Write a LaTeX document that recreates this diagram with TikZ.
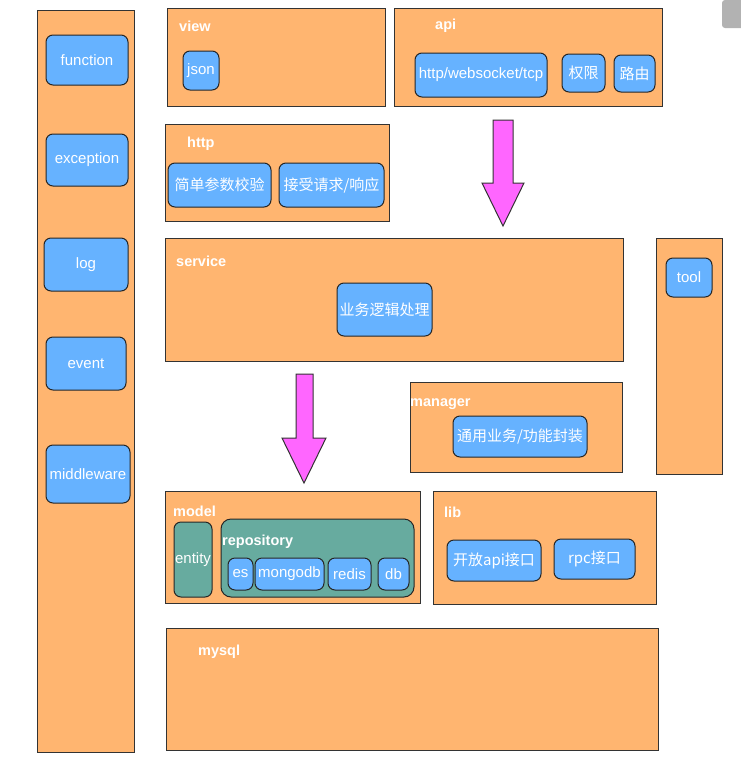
\documentclass[tikz,border=0pt]{standalone}
\usepackage{fontspec}
\setmainfont{Liberation Sans}
\newfontfamily\cjk{Noto Sans CJK SC}
\usetikzlibrary{positioning}
\definecolor{layerorange}{HTML}{FFB570}
\definecolor{itemblue}{HTML}{66B2FF}
\definecolor{repoteal}{HTML}{67AB9F}
\definecolor{flowpink}{HTML}{FF66FF}
\tikzset{layer node/.style={rectangle, draw=black!80, fill=layerorange,
    line width=1pt, inner sep=0pt, outer sep=0pt}}
\tikzset{item node/.style={rectangle, rounded corners=7pt, draw=black!85,
    fill=itemblue, line width=1pt, text=white, inner sep=1pt,
    font=\fontsize{15}{18}\selectfont}}
\tikzset{group node/.style={item node, fill=repoteal}}
\tikzset{layer title/.style={anchor=west, text=white, inner sep=0pt, yshift=-2pt,
    font=\bfseries\fontsize{14.5}{17}\selectfont}}
\tikzset{flow arrow/.style={draw=black!80, fill=flowpink, line width=1pt}}

\begin{document}
\begin{tikzpicture}
  [x=1pt, y=-1pt]
  \useasboundingbox (0,0) rectangle (740,764);
  \fill [black!30, rounded corners=3pt] (722,0) rectangle (748,28);

  % common column
  \node [layer node, minimum width=97, minimum height=742] (common) at (85.5,381) {};
  \node [item node, minimum width=82, minimum height=50] (function)   at ( 87,60)    {function};
  \node [item node, minimum width=82, minimum height=52] (exception)  at ( 87,160)   {exception};
  \node [item node, minimum width=84, minimum height=53] (log)        at ( 86,264.5) {log};
  \node [item node, minimum width=80, minimum height=53] (event)      at ( 86,363.5) {event};
  \node [item node, minimum width=84, minimum height=58] (middleware) at ( 88,474)   {middleware};

  % view / api
  \node [layer node, minimum width=218, minimum height=98] (view) at (276,57) {};
  \node [layer title] (view title) at (179,24) {view};
  \node [item node, minimum width=36, minimum height=39] (json) at (201,70.5) {json};

  \node [layer node, minimum width=268, minimum height=98] (api) at (528,57) {};
  \node [layer title] (api title) at (435,24) {api};
  \node [item node, minimum width=132, minimum height=44] (protocol) at (481,75)     {http/websocket/tcp};
  \node [item node, minimum width=43,  minimum height=38] (auth)     at (583.5,73)   {\cjk 权限};
  \node [item node, minimum width=41,  minimum height=37] (router)   at (634.5,73.5) {\cjk 路由};

  % http
  \node [layer node, minimum width=224, minimum height=97] (http) at (277,172.5) {};
  \node [layer title] (http title) at (187,142) {http};
  \node [item node, minimum width=103, minimum height=44] (check)   at (219.5,185) {\cjk 简单参数校验};
  \node [item node, minimum width=105, minimum height=44] (request) at (331.5,185) {\cjk 接受请求/响应};

  \draw [flow arrow] (493,120) -- (513,120) -- (513,183) -- (524,183)
    -- (503,226) -- (482,183) -- (493,183) -- cycle;

  % service / tool
  \node [layer node, minimum width=458, minimum height=123] (service) at (394,299.5) {};
  \node [layer title] (service title) at (176,259) {service};
  \node [item node, minimum width=95, minimum height=53] (logic) at (384.5,309.5) {\cjk 业务逻辑处理};

  \node [layer node, minimum width=66, minimum height=236] (tools) at (689,356) {};
  \node [item node, minimum width=46, minimum height=39] (tool) at (689,277.5) {tool};

  \draw [flow arrow] (296,374) -- (313,374) -- (313,438) -- (326,438)
    -- (304,483) -- (282,438) -- (296,438) -- cycle;

  % manager
  \node [layer node, minimum width=212, minimum height=90] (manager) at (516,427) {};
  \node [layer title] (manager title) at (410,402) {manager};
  \node [item node, minimum width=134, minimum height=41] (wrap) at (520,436.5) {\cjk 通用业务/功能封装};

  % model
  \node [layer node, minimum width=255, minimum height=112] (model) at (292.5,547) {};
  \node [layer title] (model title) at (173,509) {model};
  \node [group node, minimum width=38,  minimum height=75] (entity)     at (193,559.5) {entity};
  \node [group node, minimum width=193, minimum height=78, rounded corners=10pt] (repository) at (317.5,558) {};
  \node [layer title] (repository title) at (222,540) {repository};
  \node [item node, minimum width=25, minimum height=32] (es)      at (240.5,574) {es};
  \node [item node, minimum width=69, minimum height=32] (mongodb) at (289.5,574) {mongodb};
  \node [item node, minimum width=43, minimum height=32] (redis)   at (349.5,574) {redis};
  \node [item node, minimum width=31, minimum height=32] (db)      at (393.5,574) {db};

  % lib
  \node [layer node, minimum width=223, minimum height=113] (lib) at (544.5,547.5) {};
  \node [layer title] (lib title) at (444,510) {lib};
  \node [item node, minimum width=94, minimum height=41] (openapi) at (494,560.5) {\cjk 开放api接口};
  \node [item node, minimum width=81, minimum height=40] (rpc)     at (594.5,559) {\cjk rpc接口};

  % mysql
  \node [layer node, minimum width=492, minimum height=122] (mysql) at (412,689) {};
  \node [layer title] (mysql title) at (198,650) {mysql};
\end{tikzpicture}
\end{document}
